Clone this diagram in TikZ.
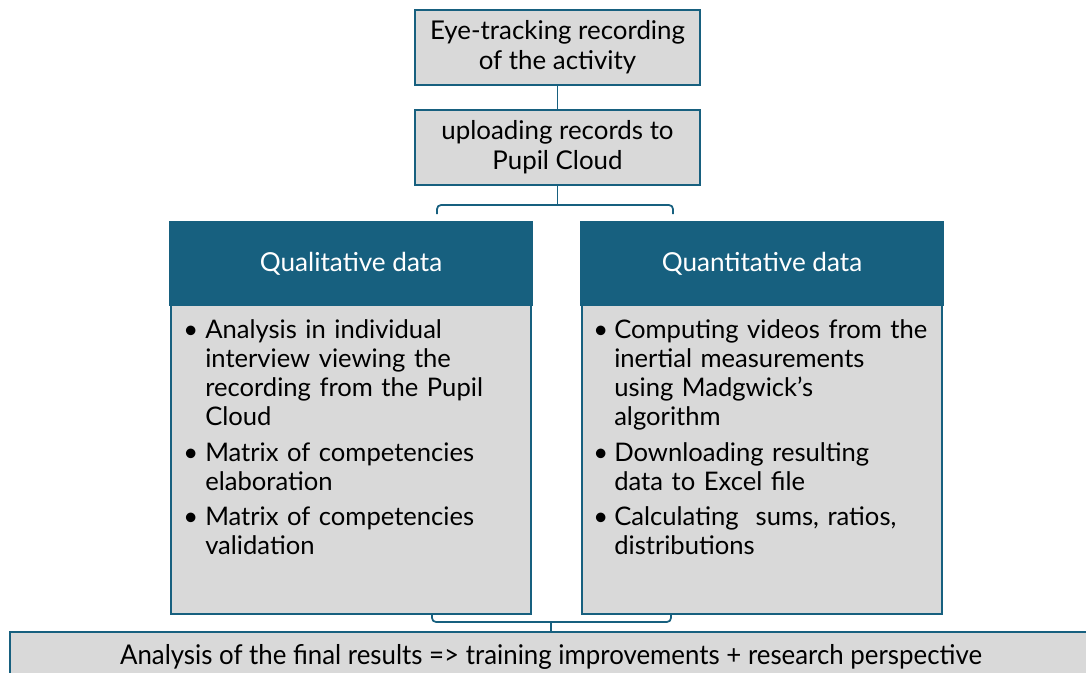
\documentclass[tikz,border=0pt]{standalone}
\usepackage{fontspec}
\setmainfont{Lato}
\newfontfamily\narrowfont[FakeStretch=0.95]{Lato}
\definecolor{hdrblue}{HTML}{17607F}
\definecolor{boxgray}{HTML}{D9D9D9}
\begin{document}
\begin{tikzpicture}[x=0.75pt,y=-0.75pt,
  graybox/.style={draw=hdrblue,fill=boxgray,line width=1pt},
  conn/.style={draw=hdrblue,line width=1.3pt},
  boxtext/.style={font=\fontsize{19.4pt}{22.5pt}\selectfont,align=center,text=black},
  itemtext/.style={anchor=base west,inner sep=0pt,text width=330pt,font=\fontsize{19.2pt}{21.9pt}\selectfont,align=left},
  bul/.style={anchor=base west,inner sep=0pt,font=\fontsize{19.2pt}{21.9pt}\selectfont}]
\useasboundingbox (0,0) rectangle (1086,672);
% top boxes
\draw[graybox] (415,10) rectangle (700,85);
\node[boxtext] (eye) at (557.5,47.5) {Eye-tracking recording\\of the activity};
\draw[graybox] (415,110) rectangle (700,185);
\node[boxtext] (up) at (557.5,147.5) {uploading records to\\Pupil Cloud};
\coordinate (eyeS) at (557.5,85);
\coordinate (upN) at (557.5,110);
\coordinate (upS) at (557.5,185);
\draw[conn] (eyeS) -- (upN);
% top bracket
\coordinate (brT) at (557.5,205);
\coordinate (brTL) at (437,214);
\coordinate (brTR) at (673,214);
\draw[conn] (upS) -- (brT);
\draw[conn,rounded corners=3pt] (brTL) |- (brT) -| (brTR);
% left panel
\draw[draw=hdrblue,fill=hdrblue,line width=1pt] (170,222) rectangle (532,305);
\draw[draw=hdrblue,fill=boxgray,line width=2pt] (171,305) rectangle (531,614);
\node[font=\fontsize{19.6pt}{22pt}\selectfont,text=white] (qual) at (351,264) {Qualitative data};
% right panel
\draw[draw=hdrblue,fill=hdrblue,line width=1pt] (581,222) rectangle (943,305);
\draw[draw=hdrblue,fill=boxgray,line width=2pt] (582,305) rectangle (942,614);
\node[font=\fontsize{19.6pt}{22pt}\selectfont,text=white] (quan) at (762,264) {Quantitative data};
% left items
\node[bul] (lb1) at (183,338) {\textbullet};
\node[itemtext] (li1) at (205,338) {Analysis in individual\\interview viewing the\\recording from the Pupil\\Cloud};
\node[bul] (lb2) at (183,461) {\textbullet};
\node[itemtext] (li2) at (205,461) {Matrix of competencies\\elaboration};
\node[bul] (lb3) at (183,525) {\textbullet};
\node[itemtext] (li3) at (205,525) {Matrix of competencies\\validation};
% right items
\node[bul] (rb1) at (593,338) {\textbullet};
\node[itemtext] (ri1) at (614,338) {Computing videos from the\\inertial measurements\\using Madgwick's\\algorithm};
\node[bul] (rb2) at (593,461) {\textbullet};
\node[itemtext] (ri2) at (614,461) {Downloading resulting\\data to Excel file};
\node[bul] (rb3) at (593,525) {\textbullet};
\node[itemtext] (ri3) at (614,525) {Calculating\ \ sums, ratios,\\distributions};
% bottom bracket
\coordinate (brBL) at (432,614);
\coordinate (brBR) at (671,614);
\coordinate (brB) at (551,622);
\coordinate (fnN) at (551,632);
\draw[conn,rounded corners=3pt] (brBL) |- (brB) -| (brBR);
\draw[conn] (brB) -- (fnN);
% bottom box
\draw[graybox] (10,632) rectangle (1090,676);
\node[font=\narrowfont\fontsize{20.4pt}{22pt}\selectfont] (fin) at (551,657) {Analysis of the final results => training improvements + research perspective};
\end{tikzpicture}
\end{document}
